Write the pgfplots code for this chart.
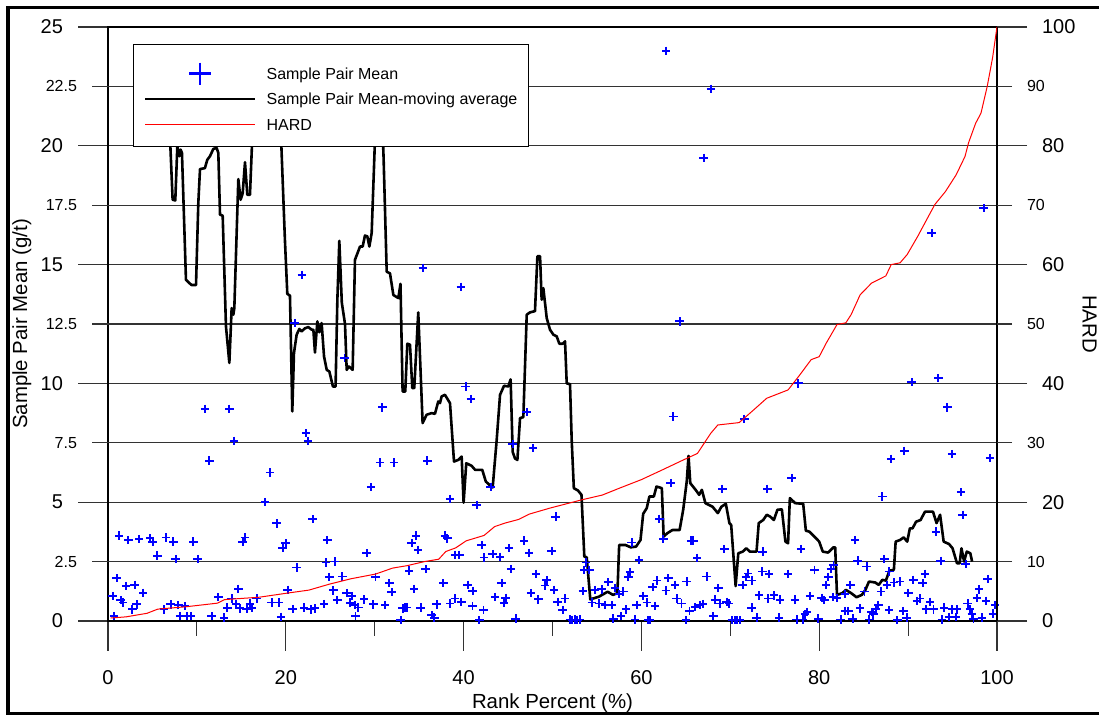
\documentclass[border=0pt]{standalone}
\usepackage{pgfplots}
\pgfplotsset{compat=1.18}
\usepackage{fontspec}
\setmainfont{Liberation Sans}
\pgfplotsset{
  plusleg/.style={legend image code/.code={\path[draw=none,fill=none] (0pt,0pt) rectangle (55pt,2pt);
    \pgfinterruptboundingbox \draw[##1] plot coordinates {(27.5pt,-1.7pt)}; \endpgfinterruptboundingbox}},
  lineleg/.style={legend image code/.code={\path[draw=none,fill=none] (0pt,0pt) rectangle (55pt,2pt);
    \pgfinterruptboundingbox \draw[##1] (0pt,-1.7pt) -- (55pt,-1.7pt); \endpgfinterruptboundingbox}},
}
\begin{document}
\begin{tikzpicture}
\useasboundingbox (-54pt,-47pt) rectangle (495.5pt,310.5pt);
\begin{axis}[
  at={(0pt,0pt)}, anchor=south west,
  scale only axis, width=444.5pt, height=297pt,
  xmin=0, xmax=100, ymin=0, ymax=25,
  xtick={0,20,...,100}, minor xtick={10,30,50,70,90},
  ytick={0,5,...,25},
  extra y ticks={2.5,7.5,12.5,17.5,22.5},
  extra y tick style={major tick length=8pt, grid=major,
     tick label style={font=\fontsize{8}{9.6}\selectfont}},
  tick align=outside, major tick length=15pt, minor tick length=7.5pt,
  xtick pos=left, ytick pos=left,
  xticklabel shift=6pt, yticklabel shift=4pt,
  ymajorgrids,
  grid style={black!80, line width=0.6pt},
  axis line style={black, line width=0.6pt},
  tick style={black!80, line width=0.6pt},
  tick label style={font=\fontsize{10}{12}\selectfont},
  /pgf/number format/assume math mode=true,
  xlabel={Rank Percent (\%)},
  ylabel={Sample Pair Mean (g/t)},
  label style={font=\fontsize{10.2}{12}\selectfont},
  xlabel style={at={(axis description cs:0.5,-0.147)}, anchor=base},
  ylabel style={at={(axis description cs:-0.0911,0.5)}, anchor=base},
]
\addplot[only marks, mark=+, blue, mark size=2.1pt, mark options={line width=0.9pt}] coordinates {
(10.91,8.93)(13.65,8.93)(14.17,7.58)(11.4,6.75)(22.27,7.9)(22.53,7.58)(18.22,6.25)(17.66,5.0)(18.97,4.11)(23.02,4.28)
(1.27,3.59)(2.29,3.41)(3.52,3.45)(4.72,3.48)(5.02,3.34)(6.52,3.51)(7.35,3.34)(9.6,3.34)(5.55,2.75)(7.61,2.61)(10.09,2.61)(15.15,3.34)(15.41,3.51)(19.65,3.06)(19.98,3.27)(24.67,3.41)(24.52,2.46)(21.22,2.25)
(0.97,1.8)(2.02,1.47)(3.0,1.52)(3.97,1.19)(0.52,1.05)(1.42,0.88)(1.72,0.78)(3.22,0.7)(2.74,0.49)(0.67,0.21)(6.3,0.49)(7.05,0.7)(7.91,0.67)(8.66,0.63)(8.1,0.21)(8.92,0.21)(9.3,0.21)(11.66,0.2)(13.05,0.14)(12.41,1.0)(13.42,0.56)(13.91,0.95)(14.66,1.35)(14.4,0.7)(14.85,0.53)(15.6,0.5)(15.97,0.73)(16.16,0.56)(16.72,0.95)(18.41,0.78)(19.24,0.78)(19.46,0.17)(20.21,1.31)(20.77,0.5)(22.05,0.56)(22.8,0.49)(23.28,0.53)(24.3,0.71)(24.9,1.85)
(21.0,12.54)(21.8,14.57)(26.6,11.08)(35.4,14.86)(39.7,14.06)(62.8,24.0)(67.8,22.4)(67.0,19.49)(64.3,12.61)(92.65,16.33)(98.5,17.37)
(40.23,9.87)(40.8,9.34)(30.86,8.99)(47.09,8.79)(45.52,7.46)(47.84,7.27)(30.6,6.67)(32.17,6.67)(35.92,6.75)(29.58,5.63)(38.47,5.14)(41.47,4.89)(43.04,5.65)(50.35,4.39)
(29.1,2.85)(25.53,2.5)(34.65,3.59)(34.16,3.27)(34.9,2.99)(37.9,3.59)(38.17,3.48)(39.03,2.78)(39.52,2.78)(42.03,3.2)(42.29,2.67)(43.27,2.82)(44.09,2.7)(45.1,3.06)(46.82,3.38)(47.39,2.87)(49.9,2.94)(45.33,2.19)(33.89,2.12)(35.73,2.19)(26.36,1.87)(30.1,1.85)(31.65,1.59)(31.91,1.21)(37.72,1.59)(40.46,1.52)(41.02,1.26)(44.28,1.6)(48.14,1.98)(49.34,1.71)(49.16,1.49)(50.17,1.31)(34.42,1.35)(25.35,1.29)(26.85,1.18)(25.8,0.88)(27.22,0.77)(27.41,1.05)(27.78,0.67)(28.16,0.57)(28.83,0.91)(29.85,0.7)(31.16,0.67)(33.14,0.53)(33.41,0.57)(33.6,0.57)(35.17,0.56)(36.97,0.7)(36.41,0.25)(36.71,0.14)(32.92,0.03)(38.5,0.74)(39.0,0.95)(39.75,0.81)(40.99,0.63)(42.24,0.46)(41.77,0.03)(43.53,1.01)(44.73,0.97)(44.54,0.76)(45.85,0.1)(47.58,1.18)(48.41,0.91)(50.58,0.81)(27.85,0.2)
(63.59,8.61)(71.58,8.51)(63.29,5.8)(69.1,5.56)(74.17,5.56)(76.9,6.01)(62.02,4.3)(62.47,3.45)(65.58,3.38)(65.84,3.38)(58.9,3.3)(69.33,3.03)(73.64,2.92)(59.73,2.57)(66.28,2.66)(53.77,2.46)(53.54,2.15)(54.14,2.15)(58.71,2.05)(58.53,1.85)(61.73,1.7)(63.03,1.8)(65.09,1.66)(67.34,1.87)(61.27,1.42)(63.78,1.52)(62.74,1.28)(68.65,1.38)(72.02,2.0)(72.4,1.7)(71.76,1.85)(71.39,1.52)(73.6,2.08)(74.32,1.98)(76.5,1.98)
(53.4,1.26)(54.79,1.31)(55.53,1.33)(56.28,1.63)(57.03,1.38)(57.97,1.24)(57.52,1.14)(51.4,0.95)(51.14,0.46)(54.42,0.78)(55.27,0.74)(55.91,0.67)(56.66,0.67)(60.22,1.05)(59.47,0.67)(60.6,0.78)(61.53,0.63)(58.27,0.49)(57.7,0.2)(56.85,0.1)(59.28,0.06)(60.78,0.03)(60.95,0.03)(63.97,0.95)(64.52,0.74)(65.4,0.42)(66.03,0.59)(66.6,0.67)(66.9,0.71)(65.0,0.03)(68.28,0.9)(68.84,0.74)(69.59,0.81)(69.86,0.74)(68.09,0.2)(70.16,0.03)(70.5,0.03)(70.72,0.03)(71.1,0.03)(72.4,0.56)(73.24,1.08)(72.96,0.14)(74.28,0.95)(74.92,1.08)(75.6,0.9)(75.48,0.14)(51.97,0.06)(52.2,0.05)(52.53,0.06)(52.8,0.05)(53.09,0.06)
(77.65,10.0)(90.4,10.05)(93.4,10.22)(94.41,8.99)(89.58,7.16)(88.08,6.82)(94.94,7.03)(99.21,6.85)(87.1,5.24)(95.95,5.42)(96.14,4.47)(93.14,3.76)(84.03,3.41)(77.95,3.03)(87.33,2.61)(84.33,2.54)(85.34,2.29)(93.66,2.53)(96.47,2.39)(79.46,2.15)(81.3,2.18)(81.6,2.36)(81.03,1.85)(80.78,1.52)(83.5,1.52)(87.89,2.08)(87.6,1.52)(88.42,1.62)(89.09,1.66)(90.59,1.73)(91.64,1.59)(91.9,1.98)(98.95,1.76)(97.98,1.33)(86.97,1.24)(85.09,1.24)
(77.28,0.9)(78.97,1.05)(80.28,0.98)(80.58,0.88)(81.52,1.01)(81.97,0.98)(82.9,1.14)(90.03,1.17)(90.97,0.85)(91.34,0.95)(92.46,0.81)(97.72,0.98)(98.77,0.85)(96.7,0.74)(99.77,0.67)(78.6,0.38)(78.41,0.28)(79.9,0.1)(77.46,0.06)(78.21,0.06)(82.41,0.06)(82.9,0.42)(83.28,0.42)(83.76,0.1)(84.59,0.53)(85.64,0.06)(85.9,0.38)(86.09,0.28)(86.39,0.49)(86.65,0.67)(87.85,0.46)(88.79,0.03)(89.47,0.42)(89.84,0.14)(91.98,0.49)(92.85,0.49)(94.05,0.56)(93.78,0.06)(94.6,0.17)(94.97,0.49)(95.53,0.49)(95.42,0.17)(96.97,0.49)(97.16,0.28)(97.35,0.1)(98.28,0.14)(99.52,0.31)
};
\addplot[black, line width=1.3pt, line join=round] coordinates {
(6.0,22.5)(6.9,21.0)(7.27,17.73)(7.57,17.7)(7.8,20.0)(8.02,19.56)(8.17,19.84)(8.32,19.7)(8.77,14.36)(9.15,14.22)(9.41,14.14)(9.9,14.14)(10.16,17.6)(10.35,19.02)(10.9,19.06)(11.17,19.41)(11.47,19.56)(11.85,19.87)(12.22,19.91)(12.41,19.7)(12.6,17.1)(12.9,17.06)(13.27,12.4)(13.65,10.86)(13.91,13.17)(14.1,12.89)(14.21,13.17)(14.66,18.6)(14.92,17.73)(15.15,18.0)(15.41,19.31)(15.67,17.94)(15.97,17.94)(16.3,21)(17.5,22.5)(18.8,22)(19.4,21)(19.9,16.05)(20.17,13.77)(20.47,13.69)(20.73,8.82)(20.92,11.28)(21.22,12.05)(21.52,12.29)(21.78,12.19)(22.16,12.32)(22.53,12.37)(22.91,12.26)(23.1,12.26)(23.28,11.3)(23.55,12.61)(23.77,12.15)(24.03,12.54)(24.3,11.14)(24.6,10.57)(24.9,10.5)(25.3,9.87)(25.6,9.87)(25.8,13.52)(26.02,16.0)(26.3,13.4)(26.66,12.5)(26.85,10.57)(27.1,10.71)(27.52,10.57)(27.78,15.2)(28.35,15.76)(28.65,15.76)(28.9,16.22)(29.17,16.19)(29.4,15.76)(29.66,16.33)(30.1,21)(30.5,23)(30.8,21.5)(31.0,19.5)(31.35,14.7)(31.72,14.63)(32.1,13.72)(32.66,13.59)(32.9,14.19)(33.14,9.66)(33.44,9.66)(33.67,11.67)(33.97,11.63)(34.23,9.8)(34.45,9.8)(34.9,12.99)(35.39,8.33)(35.84,8.68)(36.4,8.75)(36.78,8.72)(37.15,9.24)(37.34,9.17)(37.53,9.45)(37.9,9.52)(38.47,9.17)(38.92,6.71)(39.4,6.78)(39.78,6.92)(40.0,4.98)(40.3,6.64)(40.9,6.53)(41.3,6.36)(42.1,6.36)(42.5,5.87)(42.9,5.73)(43.27,5.62)(43.72,7.61)(44.1,9.52)(44.55,9.9)(45.03,9.87)(45.29,10.17)(45.52,7.12)(45.78,6.84)(46.05,6.78)(46.35,8.54)(46.72,8.58)(47.1,12.89)(47.47,12.99)(48.03,13.04)(48.3,15.35)(48.6,15.35)(48.78,13.52)(48.97,14.01)(49.35,12.75)(49.72,12.26)(50.1,12.05)(50.47,11.98)(50.77,11.67)(51.15,11.67)(51.41,11.77)(51.6,10.0)(51.97,9.97)(52.16,7.61)(52.4,5.59)(52.87,5.49)(53.26,5.31)(53.58,2.71)(53.85,2.68)(54.25,0.91)(55.2,1.02)(56.2,1.23)(56.8,1.1)(57.3,1.17)(57.5,3.2)(58.2,3.2)(58.8,3.1)(59.4,3.13)(59.9,3.41)(60.2,4.51)(60.6,4.75)(60.9,5.24)(61.4,5.24)(61.7,5.66)(62.3,5.59)(62.5,3.55)(62.9,3.69)(63.5,3.83)(64.3,3.83)(64.7,4.68)(65.1,5.87)(65.3,6.95)(65.5,5.8)(66.1,5.52)(66.5,5.31)(66.8,5.52)(67.2,4.96)(68.0,4.81)(68.6,4.54)(69.0,4.81)(69.5,4.93)(69.9,4.12)(70.1,4.04)(70.6,1.47)(70.9,2.85)(71.4,2.92)(71.8,3.06)(72.2,2.92)(72.95,2.92)(73.2,4.12)(73.7,4.25)(74.1,4.47)(74.5,4.39)(74.9,4.25)(75.3,4.68)(75.8,4.7)(76.2,3.34)(76.5,3.27)(76.7,5.17)(77.3,4.96)(78.2,4.93)(78.5,3.8)(78.9,3.76)(79.65,3.48)(80.0,3.34)(80.4,2.92)(81.0,2.88)(81.6,3.1)(81.8,3.1)(82.0,1.1)(82.6,1.17)(83.0,1.31)(83.6,1.17)(84.2,1.0)(84.8,1.1)(85.2,1.31)(85.6,1.66)(86.3,1.62)(86.7,1.52)(87.1,1.73)(87.5,1.7)(87.9,2.12)(88.4,2.15)(88.6,3.34)(89.1,3.41)(89.5,3.52)(89.9,3.34)(90.2,3.9)(90.5,3.9)(90.9,4.18)(91.4,4.25)(91.9,4.6)(92.8,4.6)(93.2,4.12)(93.6,4.47)(94.0,3.34)(94.6,3.24)(95.0,3.06)(95.5,2.43)(95.8,2.43)(96.0,3.06)(96.3,2.5)(96.6,2.92)(97.0,2.85)(97.2,2.5)
};
\end{axis}
\begin{axis}[
  at={(0pt,0pt)}, anchor=south west,
  scale only axis, width=444.5pt, height=297pt,
  xmin=0, xmax=100, ymin=0, ymax=100,
  axis x line=none, axis y line*=right,
  ytick={0,20,...,100}, extra y ticks={10,30,50,70,90},
  tick align=outside, major tick length=15pt,
  yticklabel shift=4pt,
  extra y tick style={major tick length=7.5pt, tick label style={font=\fontsize{8}{9.6}\selectfont}},
  tick style={black!80, line width=0.6pt},
  axis line style={black, line width=0.6pt},
  tick label style={font=\fontsize{10}{12}\selectfont},
  /pgf/number format/assume math mode=true,
  ylabel={HARD},
  ylabel style={font=\fontsize{10.2}{12}\selectfont, at={(axis description cs:1.0962,0.5)}, anchor=base, rotate=180},
  legend style={at={(0.0281,0.9714)}, anchor=north west, draw=black, line width=0.6pt, fill=white,
    font=\fontsize{8}{9.6}\selectfont, inner xsep=5.75pt, inner ysep=8pt, row sep=3pt, column sep=5.75pt,
    nodes={inner sep=0pt, text height=9.45pt, text depth=0.2pt}},
  legend cell align=left,
  lineleg,
]
\addlegendimage{blue, only marks, mark=+, mark size=5.5pt, mark options={line width=1.4pt}, plusleg}
\addlegendentry{Sample Pair Mean}
\addlegendimage{black, line width=1.3pt, lineleg}
\addlegendentry{Sample Pair Mean-moving average}
\addplot[red, line width=0.5pt, lineleg] coordinates {
(0.3,0.5)(2.06,0.7)(4.4,1.3)(5.6,2.0)(8.8,2.4)(12.3,3.0)(13.1,3.6)(17.0,4.0)(20.2,4.7)(22.6,5.2)(24.9,6.2)(27.3,7.1)(30.1,7.9)(32.0,8.9)(33.6,9.3)(35.6,10.0)(37.2,10.4)(38.0,11.7)(39.1,12.3)(40.3,13.5)(42.3,14.4)(43.5,15.9)(44.7,16.5)(46.2,17.1)(47.4,18.0)(49.7,19.0)(53.3,20.4)(55.6,21.2)(57.6,22.4)(60.0,23.8)(62.3,25.4)(64.7,27.1)(66.3,28.2)(67.8,31.6)(68.6,33.0)(71.0,33.4)(72.6,35.5)(74.1,37.5)(76.5,38.9)(77.7,41.2)(79.1,44.0)(80.0,44.5)(80.8,46.8)(82.0,49.9)(83.0,50.2)(83.6,51.6)(84.6,54.9)(85.9,56.9)(87.5,58.1)(88.1,60.0)(89.1,60.3)(89.9,61.7)(91.1,64.8)(92.1,67.6)(93.0,70.1)(94.2,72.3)(95.4,75.1)(96.4,78.2)(96.8,80.5)(97.6,83.8)(98.2,85.5)(98.9,90.0)(99.5,94.8)(100,100)
};
\addlegendentry{HARD}
\end{axis}
\draw[line width=1.6pt] (500pt,306.65pt) -- (-50pt,306.65pt) -- (-50pt,-46.15pt) -- (500pt,-46.15pt);
\end{tikzpicture}
\end{document}
